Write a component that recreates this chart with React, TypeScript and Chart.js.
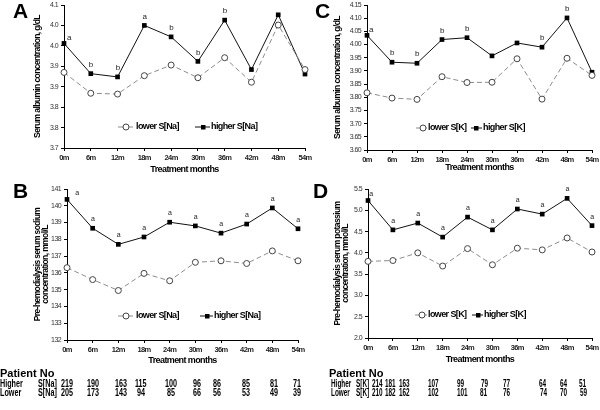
import React, { useEffect, useRef } from "react";
import { Chart, registerables } from "chart.js";
Chart.register(...registerables);

// ---------------- data ----------------
const MONTHS = ["0m", "6m", "12m", "18m", "24m", "30m", "36m", "42m", "48m", "54m"];

// A: serum albumin by sodium group
const ALB_NA_LOWER = [3.885, 3.834, 3.832, 3.877, 3.903, 3.872, 3.921, 3.861, 4.001, 3.892];
const ALB_NA_HIGHER = [3.956, 3.882, 3.874, 4.0, 3.972, 3.912, 4.013, 3.892, 4.026, 3.881];
const ALB_NA_SIG = ["a", "b", "b", "a", "b", "b", "b", "", "", ""];
const ALB_NA_YTICKS = [3.7, 3.75, 3.8, 3.85, 3.9, 3.95, 4.0, 4.05];
const ALB_NA_YLABELS = ["3.7", "3.8", "3.8", "3.9", "3.9", "4.0", "4.0", "4.1"];

// B: serum sodium
const NA_LOWER = [136.31, 135.6, 134.95, 135.97, 135.53, 136.63, 136.72, 136.56, 137.31, 136.72];
const NA_HIGHER = [140.38, 138.66, 137.7, 138.14, 139.02, 138.8, 138.37, 138.91, 139.87, 138.63];
const NA_SIG = ["a", "a", "a", "a", "a", "a", "a", "a", "a", "a"];
const NA_YTICKS = [132, 133, 134, 135, 136, 137, 138, 139, 140, 141];
const NA_YLABELS = ["132", "133", "134", "135", "136", "137", "138", "139", "140", "141"];

// C: serum albumin by potassium group
const ALB_K_LOWER = [3.817, 3.797, 3.792, 3.878, 3.856, 3.857, 3.946, 3.793, 3.948, 3.883];
const ALB_K_HIGHER = [4.035, 3.933, 3.929, 4.019, 4.026, 3.957, 4.006, 3.99, 4.101, 3.895];
const ALB_K_SIG = ["a", "b", "b", "b", "b", "", "", "b", "b", ""];
const ALB_K_YTICKS = [3.6, 3.65, 3.7, 3.75, 3.8, 3.85, 3.9, 3.95, 4.0, 4.05, 4.1, 4.15];
const ALB_K_YLABELS = ["3.60", "3.65", "3.70", "3.75", "3.80", "3.85", "3.90", "3.95", "4.00", "4.05", "4.10", "4.15"];

// D: serum potassium
const K_LOWER = [3.8, 3.82, 4.0, 3.69, 4.1, 3.72, 4.11, 4.07, 4.35, 4.02];
const K_HIGHER = [5.23, 4.54, 4.7, 4.37, 4.84, 4.54, 5.03, 4.91, 5.28, 4.64];
const K_SIG = ["a", "a", "a", "a", "a", "a", "a", "a", "a", "a"];
const K_YTICKS = [2.0, 2.5, 3.0, 3.5, 4.0, 4.5, 5.0, 5.5];
const K_YLABELS = ["2.0", "2.5", "3.0", "3.5", "4.0", "4.5", "5.0", "5.5"];

// patient numbers
const NA_HIGH_N = ["219", "190", "163", "115", "100", "96", "86", "85", "81", "71"];
const NA_LOW_N = ["205", "173", "143", "94", "85", "66", "56", "53", "49", "39"];
const K_HIGH_N = ["214", "181", "163", "107", "99", "79", "77", "64", "64", "51"];
const K_LOW_N = ["210", "182", "162", "102", "101", "81", "76", "74", "70", "59"];

// ---------------- layout ----------------
const NA_HIGH_COLS = [61, 87, 115, 135, 165, 193, 213, 242, 270, 293];
const NA_LOW_COLS = [61, 87, 115, 137, 167, 193, 213, 242, 270, 293];
const K_HIGH_COLS = [372, 385, 399, 428, 457, 481, 503, 539, 560, 579];
const K_LOW_COLS = [372, 385, 399, 428, 457, 480, 503, 540, 560, 580];

const FONT = '"Liberation Sans", Arial, sans-serif';

type LegendPos = {
  y: number;
  low: number[]; // lineStart, lineEnd, marker, textX
  high: number[];
};

type PanelProps = {
  left: number;
  top: number;
  width: number;
  height: number;
  area: { l: number; r: number; t: number; b: number };
  lower: number[];
  higher: number[];
  sig: string[];
  sigSize: number;
  firstDx: number;
  yTicks: number[];
  yLabels: string[];
  yTitle: string | string[];
  yTitlePad: number;
  xTitlePad: number;
  lowName: string;
  highName: string;
  legend: LegendPos;
};

function Panel(p: PanelProps) {
  const ref = useRef<HTMLCanvasElement | null>(null);
  useEffect(() => {
    const canvas = ref.current;
    if (!canvas) return;
    const condense = {
      id: "condense",
      beforeInit(chart: any) {
        (chart.ctx as any).letterSpacing = "-0.6px";
      },
      beforeDraw(chart: any) {
        (chart.ctx as any).letterSpacing = "-0.6px";
      },
    };
    const overlay = {
      id: "overlay",
      afterDatasetsDraw(chart: any) {
        const ctx = chart.ctx as CanvasRenderingContext2D;
        const meta = chart.getDatasetMeta(1);
        ctx.save();
        ctx.font = `${p.sigSize}px ${FONT}`;
        ctx.fillStyle = "#222";
        ctx.textAlign = "center";
        ctx.textBaseline = "middle";
        p.sig.forEach((s, i) => {
          if (!s) return;
          const el = meta.data[i];
          const dx = i === 0 ? p.firstDx : 0;
          const dy = i === 0 ? -6 : -9;
          ctx.fillText(s, el.x + dx, el.y + dy);
        });
        const L = p.legend;
        const y = L.y;
        ctx.lineWidth = 1;
        ctx.setLineDash([]);
        ctx.strokeStyle = "#8c8c8c";
        ctx.beginPath();
        ctx.moveTo(L.low[0], y);
        ctx.lineTo(L.low[1], y);
        ctx.stroke();
        ctx.beginPath();
        ctx.arc(L.low[2], y, 3, 0, Math.PI * 2);
        ctx.fillStyle = "#fff";
        ctx.fill();
        ctx.strokeStyle = "#444";
        ctx.stroke();
        ctx.strokeStyle = "#111";
        ctx.beginPath();
        ctx.moveTo(L.high[0], y);
        ctx.lineTo(L.high[1], y);
        ctx.stroke();
        ctx.fillStyle = "#000";
        ctx.fillRect(L.high[2] - 2, y - 2, 4.5, 4.5);
        ctx.font = `bold 9px ${FONT}`;
        ctx.textAlign = "left";
        ctx.fillStyle = "#000";
        ctx.fillText(p.lowName, L.low[3], y);
        ctx.fillText(p.highName, L.high[3], y);
        ctx.restore();
      },
    };
    const chart = new Chart(canvas, {
      type: "line",
      data: {
        labels: MONTHS,
        datasets: [
          {
            label: p.lowName,
            data: p.lower,
            borderColor: "#8c8c8c",
            borderWidth: 1,
            borderDash: [5, 3],
            pointStyle: "circle",
            pointRadius: 3,
            pointBackgroundColor: "#fff",
            pointBorderColor: "#444",
            pointBorderWidth: 1,
            tension: 0,
            fill: false,
            clip: false,
          } as any,
          {
            label: p.highName,
            data: p.higher,
            borderColor: "#111",
            borderWidth: 1,
            pointStyle: "rect",
            pointRadius: 3.3,
            pointBackgroundColor: "#000",
            pointBorderColor: "#000",
            pointBorderWidth: 0,
            tension: 0,
            fill: false,
            clip: false,
          } as any,
        ],
      },
      options: {
        responsive: false,
        animation: false,
        devicePixelRatio: 1,
        events: [],
        layout: { padding: { left: 0, top: p.area.t, right: p.width - p.area.r, bottom: 0 } },
        plugins: { legend: { display: false }, tooltip: { enabled: false } },
        scales: {
          x: {
            type: "category",
            offset: false,
            grid: { display: true, drawOnChartArea: false, drawTicks: true, tickLength: 3, color: "#000" },
            border: { display: true, color: "#000", width: 1 },
            ticks: { font: { family: FONT, size: 7.5, weight: "bold" }, color: "#222", padding: 2, maxRotation: 0, autoSkip: false },
            title: {
              display: true,
              text: "Treatment months",
              font: { family: FONT, size: 9, weight: "bold", lineHeight: 1 },
              color: "#000",
              padding: { top: 0, bottom: p.xTitlePad },
            },
            afterFit: (s: any) => {
              s.height = p.height - p.area.b;
              s.paddingLeft = 0;
              s.paddingRight = 0;
            },
          },
          y: {
            min: p.yTicks[0],
            max: p.yTicks[p.yTicks.length - 1],
            afterBuildTicks: (s: any) => {
              s.ticks = p.yTicks.map((v) => ({ value: v }));
            },
            grid: { display: true, drawOnChartArea: false, drawTicks: true, tickLength: 3, color: "#000" },
            border: { display: true, color: "#000", width: 1 },
            ticks: {
              font: { family: FONT, size: 7 },
              color: "#333",
              padding: 3,
              autoSkip: false,
              callback: (_v: any, i: number) => p.yLabels[i],
            },
            title: {
              display: true,
              text: p.yTitle,
              font: { family: FONT, size: 8.5, weight: "bold", lineHeight: 0.95 },
              color: "#000",
              padding: { top: p.yTitlePad, bottom: 0 },
            },
            afterFit: (s: any) => {
              s.width = p.area.l;
              s.paddingTop = 0;
              s.paddingBottom = 0;
            },
          },
        },
      } as any,
      plugins: [condense as any, overlay as any],
    });
    return () => chart.destroy();
  }, []);
  return (
    <canvas
      ref={ref}
      width={p.width}
      height={p.height}
      style={{ position: "absolute", left: p.left, top: p.top, width: p.width, height: p.height }}
    />
  );
}

function T(props: { x: number; y: number; size: number; text: string; sx?: number }) {
  return (
    <span
      style={{
        position: "absolute",
        left: props.x,
        top: props.y - props.size / 2,
        fontSize: props.size,
        lineHeight: `${props.size}px`,
        fontWeight: "bold",
        whiteSpace: "pre",
        color: "#000",
        fontFamily: FONT,
        transform: `scaleX(${props.sx ?? 1})`,
        transformOrigin: "left center",
      }}
    >
      {props.text}
    </span>
  );
}

function Letter(props: { x: number; y: number; text: string }) {
  return (
    <span
      style={{
        position: "absolute",
        left: props.x,
        top: props.y,
        fontSize: 21,
        lineHeight: "21px",
        fontWeight: "bold",
        fontFamily: FONT,
        color: "#000",
      }}
    >
      {props.text}
    </span>
  );
}

const SX_L = 0.72;
const SX_R = 0.64;
const ROW_SIZE = 10;

export default function App() {
  return (
    <div
      style={{
        position: "fixed",
        left: 0,
        top: 0,
        width: 600,
        height: 410,
        background: "#fff",
        overflow: "hidden",
      }}
    >
      <Panel
        left={0}
        top={0}
        width={312}
        height={180}
        area={{ l: 64, r: 305, t: 5, b: 148 }}
        lower={ALB_NA_LOWER}
        higher={ALB_NA_HIGHER}
        sig={ALB_NA_SIG}
        sigSize={8}
        firstDx={5}
        yTicks={ALB_NA_YTICKS}
        yLabels={ALB_NA_YLABELS}
        yTitle="Serum albumin concentration, g/dL"
        yTitlePad={34}
        xTitlePad={5.5}
        lowName="lower S[Na]"
        highName="higher S[Na]"
        legend={{ y: 127, low: [118, 133, 126, 136], high: [195, 210, 203, 211] }}
      />
      <Panel
        left={300}
        top={0}
        width={300}
        height={180}
        area={{ l: 67, r: 292, t: 4, b: 150 }}
        lower={ALB_K_LOWER}
        higher={ALB_K_HIGHER}
        sig={ALB_K_SIG}
        sigSize={8}
        firstDx={4}
        yTicks={ALB_K_YTICKS}
        yLabels={ALB_K_YLABELS}
        yTitle="Serum albumin concentration, g/dL"
        yTitlePad={33.5}
        xTitlePad={7.5}
        lowName="lower S[K]"
        highName="higher S[K]"
        legend={{ y: 128, low: [116, 127, 123, 128], high: [171, 182, 176, 183] }}
      />
      <Panel
        left={0}
        top={170}
        width={312}
        height={200}
        area={{ l: 67, r: 298, t: 19, b: 170 }}
        lower={NA_LOWER}
        higher={NA_HIGHER}
        sig={NA_SIG}
        sigSize={7}
        firstDx={10}
        yTicks={NA_YTICKS}
        yLabels={NA_YLABELS}
        yTitle={["Pre-hemodialysis serum sodium", "concentration, mmol/L"]}
        yTitlePad={34}
        xTitlePad={4.5}
        lowName="lower S[Na]"
        highName="higher S[Na]"
        legend={{ y: 146, low: [118, 133, 126, 136], high: [200, 213, 207, 214] }}
      />
      <Panel
        left={300}
        top={170}
        width={300}
        height={200}
        area={{ l: 68, r: 292, t: 19, b: 168 }}
        lower={K_LOWER}
        higher={K_HIGHER}
        sig={K_SIG}
        sigSize={7}
        firstDx={3}
        yTicks={K_YTICKS}
        yLabels={K_YLABELS}
        yTitle={["Pre-hemodialysis serum potassium", "concentration, mmol/L"]}
        yTitlePad={34}
        xTitlePad={5.5}
        lowName="lower S[K]"
        highName="higher S[K]"
        legend={{ y: 145, low: [115, 127, 122, 128], high: [172, 183, 178, 184] }}
      />

      <Letter x={13} y={0} text="A" />
      <Letter x={315} y={0} text="C" />
      <Letter x={13} y={180} text="B" />
      <Letter x={313} y={180} text="D" />

      {/* sodium patient table */}
      <T x={0} y={373} size={11} text="Patient No" />
      <T x={0} y={384} size={ROW_SIZE} sx={SX_L} text="Higher" />
      <T x={38} y={384} size={ROW_SIZE} sx={SX_L} text="S[Na]" />
      <T x={0} y={392.5} size={ROW_SIZE} sx={SX_L} text="Lower" />
      <T x={38} y={392.5} size={ROW_SIZE} sx={SX_L} text="S[Na]" />
      {NA_HIGH_N.map((v, i) => (
        <T key={"nh" + i} x={NA_HIGH_COLS[i]} y={384} size={ROW_SIZE} sx={SX_L} text={v} />
      ))}
      {NA_LOW_N.map((v, i) => (
        <T key={"nl" + i} x={NA_LOW_COLS[i]} y={392.5} size={ROW_SIZE} sx={SX_L} text={v} />
      ))}

      {/* potassium patient table */}
      <T x={329} y={373} size={11} text="Patient No" />
      <T x={331} y={384} size={ROW_SIZE} sx={SX_R} text="Higher" />
      <T x={356} y={384} size={ROW_SIZE} sx={SX_R} text="S[K]" />
      <T x={331} y={392.5} size={ROW_SIZE} sx={SX_R} text="Lower" />
      <T x={356} y={392.5} size={ROW_SIZE} sx={SX_R} text="S[K]" />
      {K_HIGH_N.map((v, i) => (
        <T key={"kh" + i} x={K_HIGH_COLS[i]} y={384} size={ROW_SIZE} sx={SX_R} text={v} />
      ))}
      {K_LOW_N.map((v, i) => (
        <T key={"kl" + i} x={K_LOW_COLS[i]} y={392.5} size={ROW_SIZE} sx={SX_R} text={v} />
      ))}
    </div>
  );
}
